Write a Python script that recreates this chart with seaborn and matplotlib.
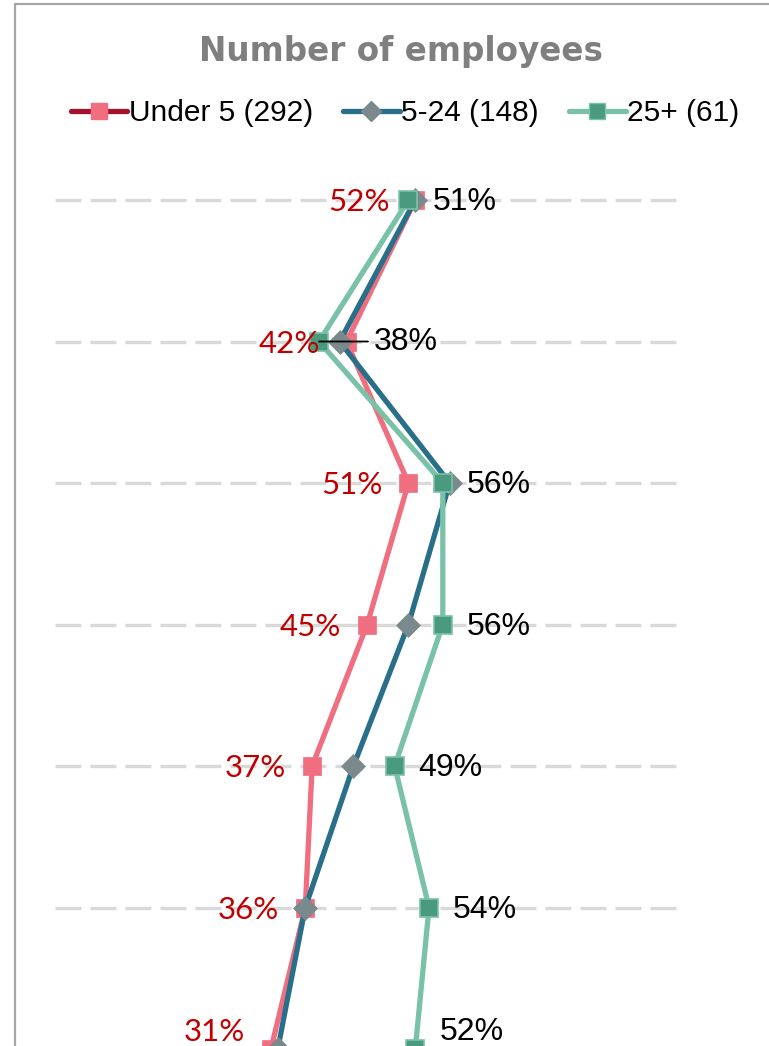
import matplotlib
matplotlib.use("Agg")
import matplotlib.pyplot as plt
import seaborn as sns
import pandas as pd
from matplotlib.lines import Line2D
from matplotlib.patches import Rectangle

# ---- data ----
rows = [0, 1, 2, 3, 4, 5, 6]
under5 = [52, 42, 51, 45, 37, 36, 31]
mid = [52, 41, 57, 51, 43, 36, 32]
large = [51, 38, 56, 56, 49, 54, 52]
series_names = ["Under 5 (292)", "5-24 (148)", "25+ (61)"]
title = "Number of employees"

sns.set_theme(style="white")
plt.rcParams["font.family"] = ["Liberation Sans", "DejaVu Sans"]
plt.rcParams["lines.scale_dashes"] = False
plt.rcParams["text.color"] = "black"

W, H = 769, 1046
fig = plt.figure(figsize=(W / 100, H / 100), dpi=100)

# axes: x from 55px to 680px, rows at 200 + i*141.5 px
row_h = 141.5
top_px = 200 - row_h / 2
bot_px = top_px + 7 * row_h
ax = fig.add_axes([55 / W, 1 - bot_px / H, 625 / W, (bot_px - top_px) / H])
ax.set_xlim(-0.4, 90.5)
ax.set_ylim(6.5, -0.5)
ax.axis("off")

# chart border
fig.patches.append(Rectangle((14.5 / W, -0.1), 1.2, (H - 4) / H + 0.1, transform=fig.transFigure,
                             fill=False, edgecolor="#a6a6a6", linewidth=1.6, zorder=0))

# gridlines
for r in rows:
    ax.plot([-0.4, 90.5], [r, r], color="#d9d9d9", linewidth=2.4, dashes=(18.7, 6.5), zorder=1)

pink_line = "#ef6e80"
pink_mark = "#ef6e80"
blue_line = "#2a6f8a"
gray_mark = "#7a8a8c"
green_line = "#79c2a8"
green_mark = "#4a9a80"

df1 = pd.DataFrame({"x": under5, "y": rows})
df2 = pd.DataFrame({"x": mid, "y": rows})
df3 = pd.DataFrame({"x": large, "y": rows})

sns.lineplot(data=df1, x="x", y="y", orient="y", sort=False, ax=ax, color=pink_line, linewidth=3.8,
             marker="s", markersize=12.5, markerfacecolor=pink_mark, markeredgecolor=pink_mark,
             markeredgewidth=0.5, clip_on=False, zorder=3)
sns.lineplot(data=df2, x="x", y="y", orient="y", sort=False, ax=ax, color=blue_line, linewidth=3.8,
             marker="D", markersize=12.5, markerfacecolor=gray_mark, markeredgecolor=gray_mark,
             markeredgewidth=0.5, clip_on=False, zorder=4)
sns.lineplot(data=df3, x="x", y="y", orient="y", sort=False, ax=ax, color=green_line, linewidth=3.8,
             marker="s", markersize=12.5, markerfacecolor=green_mark, markeredgecolor=green_line,
             markeredgewidth=1.2, clip_on=False, zorder=5)

# data labels
for i, (r, v) in enumerate(zip(rows, under5)):
    dy = 17 if i == len(rows) - 1 else -2
    ax.annotate(f"{v}%", (v, r), xytext=(-26, dy), textcoords="offset pixels", ha="right",
                va="center", fontsize=22.5, color="#c00000", family=["Lato", "DejaVu Sans"],
                fontweight="normal", zorder=6)
for i, (r, v) in enumerate(zip(rows, large)):
    dy = 17 if i == len(rows) - 1 else -2
    if i == 1:
        ax.annotate(f"{v}%", (v, r), xytext=(55, 0), textcoords="offset pixels", ha="left",
                    va="center", fontsize=23, color="black", zorder=6,
                    arrowprops=dict(arrowstyle="-", color="black", lw=1.3, shrinkA=2, shrinkB=0))
    else:
        ax.annotate(f"{v}%", (v, r), xytext=(24, dy), textcoords="offset pixels", ha="left",
                    va="center", fontsize=23, color="black", zorder=6)

# title
fig.text(401 / W, 1 - 51 / H, title, ha="center", va="center", fontsize=23.5, fontweight="bold",
         color="#7f7f7f", family=["DejaVu Sans"])

# legend
handles = [
    Line2D([], [], color="#a3132b", linewidth=3.8, marker="s", markersize=12,
           markerfacecolor=pink_mark, markeredgecolor=pink_mark),
    Line2D([], [], color=blue_line, linewidth=3.8, marker="D", markersize=10,
           markerfacecolor=gray_mark, markeredgecolor=gray_mark),
    Line2D([], [], color=green_line, linewidth=3.8, marker="s", markersize=12,
           markerfacecolor=green_mark, markeredgecolor=green_line),
]
leg = fig.legend(handles, series_names, loc="center", bbox_to_anchor=(405 / W, 1 - 113 / H), ncol=3,
                 frameon=False, fontsize=21.5, handlelength=1.9, handletextpad=0.05,
                 columnspacing=1.0, borderpad=0)
for t in leg.get_texts():
    t.set_color("black")

fig.savefig("out.png", dpi=100)
